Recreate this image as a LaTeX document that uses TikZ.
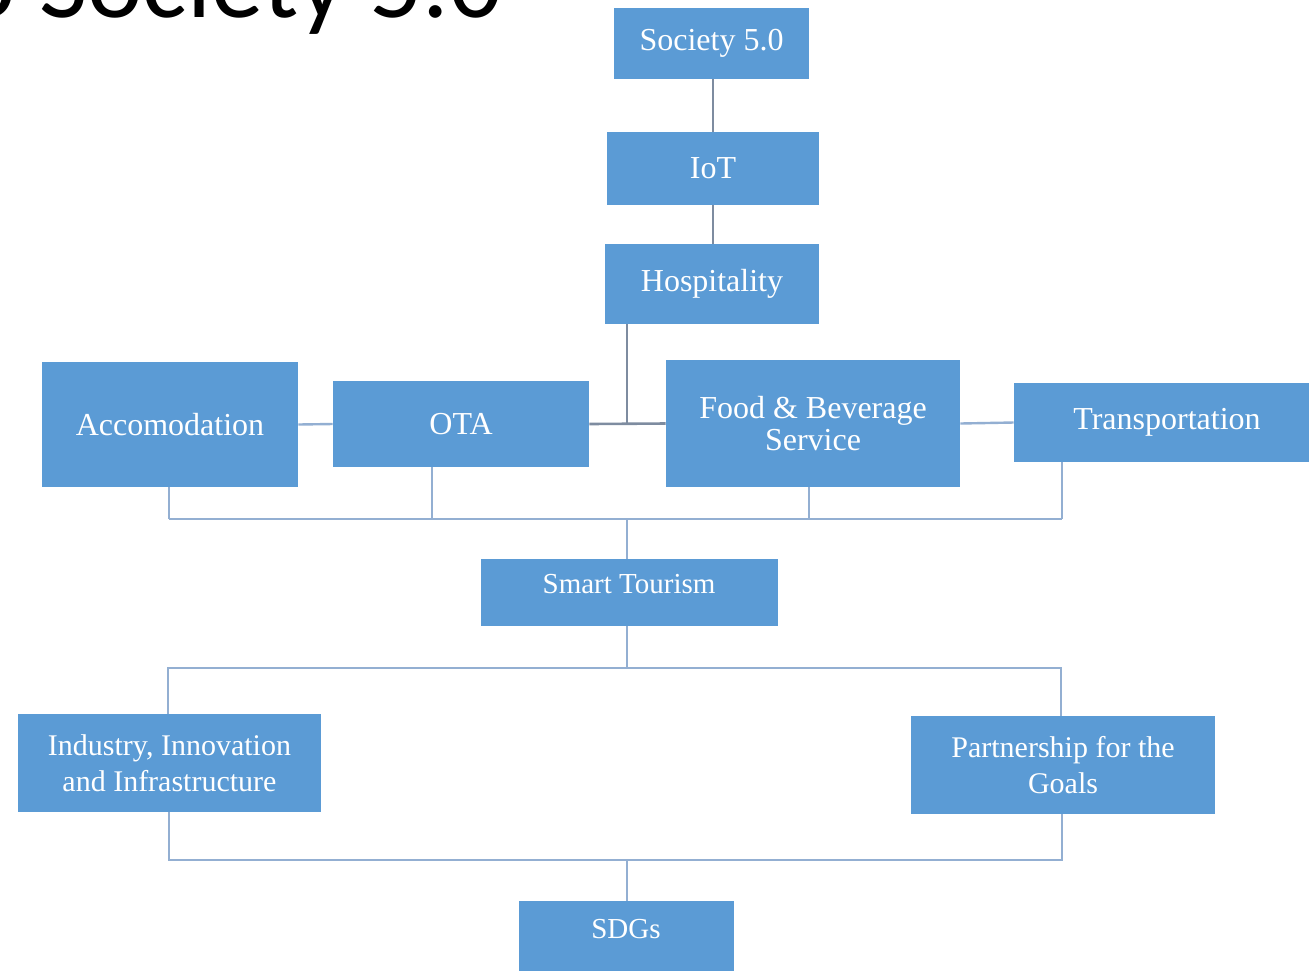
\documentclass[tikz,border=0pt]{standalone}
\usepackage{fontspec}
\setmainfont{Liberation Serif}
\newfontfamily\titlefont{Carlito}
\definecolor{boxblue}{HTML}{5B9BD5}
\definecolor{linkblue}{HTML}{93AFD2}
\definecolor{linkgray}{HTML}{7E8CA0}

% filled block given by its corner coordinates: name, x1, y1, x2, y2, style, text
\newcommand{\blk}[7]{%
  \node[box, #6, minimum width={(#4-#2)*0.5pt}, minimum height={(#5-#3)*0.5pt}]
    (#1) at ({(#2+#4)/2},{(#3+#5)/2}) {#7};}

\begin{document}
\begin{tikzpicture}[x=0.5pt,y=-0.5pt,
  box/.style={fill=boxblue, draw=none, text=white, align=center, inner sep=0pt,
              font=\fontsize{16}{16}\selectfont},
  small/.style={font=\fontsize{15}{18}\selectfont},
  label/.style={text=white, inner sep=0pt, font=\fontsize{14.5}{16}\selectfont},
  conn/.style={draw=linkblue, line width=1.2pt},
  stem/.style={draw=linkgray, line width=1.3pt}]
\useasboundingbox (0,0) rectangle (1309,970);
\clip (0,0) rectangle (1309,970);

% heading, cut by the top edge
\node[anchor=base east, inner sep=0pt, text=black,
      font=\titlefont\fontsize{52.5}{60}\selectfont] (title) at (503,17) {to Society 5.0};

% blocks
\blk{soc}{614}{8}{809}{79}{}{Society 5.0}
\blk{iot}{607}{132}{819}{205}{}{IoT}
\blk{hosp}{605}{244}{819}{324}{}{Hospitality}
\blk{acc}{42}{362}{298}{487}{}{Accomodation}
\blk{ota}{333}{381}{589}{467}{}{OTA}
\blk{fb}{666}{360}{960}{487}{}{Food \& Beverage\\Service}
\blk{trans}{1014}{383}{1320}{462}{}{Transportation}
\blk{smart}{481}{559}{778}{626}{}{}
\node[label] (smarttxt) at (629,584) {Smart Tourism};
\blk{ind}{18}{714}{321}{812}{small}{Industry, Innovation\\and Infrastructure}
\blk{part}{911}{716}{1215}{814}{small}{Partnership for the\\Goals}
\blk{sdg}{519}{901}{734}{985}{}{}
\node[label] (sdgtxt) at (626,929) {SDGs};

% upper chain
\draw[stem] (iot.north |- soc.south) -- (iot.north);
\draw[stem] (iot.south) -- (iot.south |- hosp.north);
\coordinate (hj) at (627,423);
\draw[stem] (hosp.south -| hj) -- (hj);
\draw[stem] (ota.east) -- (fb.west);

% side links
\draw[conn] (acc.east) -- (ota.west);
\draw[conn] (fb.east) -- (trans.west);

% first bus into Smart Tourism
\coordinate (d1) at (169,519);
\coordinate (d2) at (432,519);
\coordinate (d3) at (809,519);
\coordinate (d4) at (1062,519);
\coordinate (hub1) at (627,519);
\draw[conn] (acc.south -| d1) -- (d1);
\draw[conn] (ota.south -| d2) -- (d2);
\draw[conn] (fb.south -| d3) -- (d3);
\draw[conn] (trans.south -| d4) -- (d4);
\draw[conn] (d1) -- (d4);
\draw[conn] (hub1) -- (smart.north -| hub1);

% second bus out of Smart Tourism
\coordinate (e1) at (168,668);
\coordinate (e2) at (1061,668);
\coordinate (hub2) at (627,668);
\draw[conn] (smart.south -| hub2) -- (hub2);
\draw[conn] (ind.north -| e1) -- (e1) -- (e2) -- (part.north -| e2);

% third bus into SDGs
\coordinate (f1) at (169,860);
\coordinate (f2) at (1062,860);
\coordinate (hub3) at (627,860);
\draw[conn] (ind.south -| f1) -- (f1) -- (f2) -- (part.south -| f2);
\draw[conn] (hub3) -- (sdg.north -| hub3);
\end{tikzpicture}
\end{document}
